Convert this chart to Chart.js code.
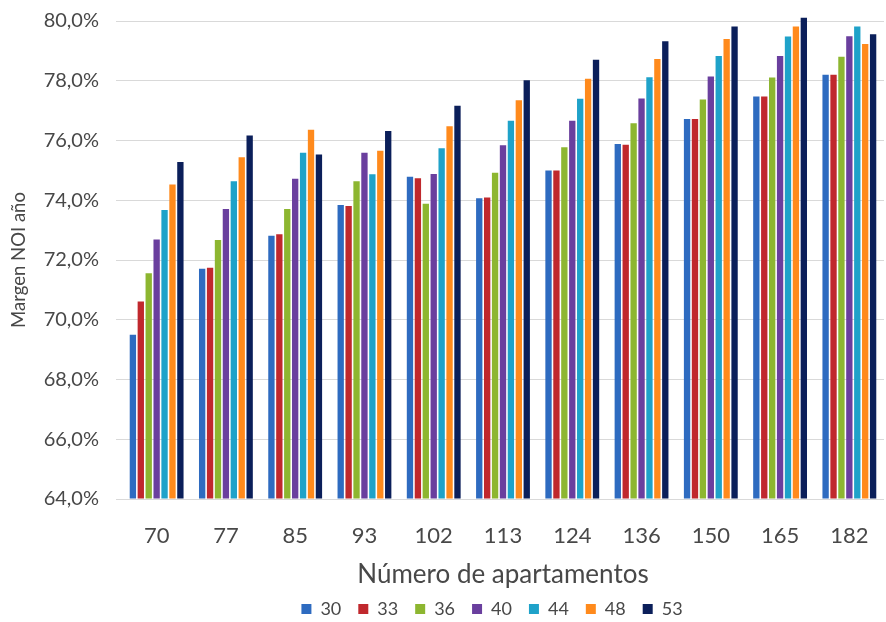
<!DOCTYPE html>
<html>
<head>
<meta charset="utf-8">
<script src="https://cdn.jsdelivr.net/npm/chart.js@4.4.1/dist/chart.umd.min.js"></script>
<style>
  html, body { margin: 0; padding: 0; background: #ffffff; overflow: hidden; }
  #wrap { width: 892px; height: 636px; position: relative; margin-top: -8px; }
</style>
</head>
<body>
<div id="wrap"><canvas id="chart"></canvas></div>
<script>
// Number of apartments (x categories)
const categories = ['70', '77', '85', '93', '102', '113', '124', '136', '150', '165', '182'];

// Series names shown in the legend
const seriesNames = ['30', '33', '36', '40', '44', '48', '53'];

// Annual NOI margin (%) for each series
const s30 = [69.50, 71.71, 72.81, 73.84, 74.79, 74.07, 75.00, 75.88, 76.72, 77.47, 78.20];
const s33 = [70.61, 71.74, 72.86, 73.81, 74.74, 74.09, 75.00, 75.86, 76.72, 77.47, 78.20];
const s36 = [71.56, 72.67, 73.71, 74.64, 73.88, 74.92, 75.77, 76.58, 77.37, 78.11, 78.80];
const s40 = [72.69, 73.71, 74.72, 75.59, 74.88, 75.84, 76.66, 77.41, 78.14, 78.83, 79.49];
const s44 = [73.67, 74.64, 75.59, 74.87, 75.74, 76.66, 77.40, 78.12, 78.83, 79.48, 79.82];
const s48 = [74.53, 75.44, 76.36, 75.66, 76.48, 77.35, 78.07, 78.73, 79.40, 79.82, 79.23];
const s53 = [75.28, 76.17, 75.53, 76.32, 77.16, 78.02, 78.70, 79.32, 79.82, 80.11, 79.56];

// Y axis range and step
const yMin = 64;
const yMax = 80;
const yStep = 2;

const seriesValues = [s30, s33, s36, s40, s44, s48, s53];
const seriesColors = ['#2e6bc0', '#c0282d', '#8db630', '#6a3f9e', '#1fa2c9', '#ff8a1c', '#0b1f5a'];

const FONT = 'Lato, "Open Sans", sans-serif';
const TEXT = '#484848';
const GRID = '#d9d9d9';

const datasets = seriesNames.map((name, i) => ({
  label: name,
  data: seriesValues[i],
  backgroundColor: seriesColors[i],
  borderWidth: 0,
  base: yMin,
  categoryPercentage: 0.8,
  barPercentage: 0.8,
  // let the tallest bars rise slightly above the top gridline
  clip: { left: 0, top: 12, right: 12, bottom: 0 }
}));

// Nudge the legend so that it sits under the middle of the plot
const legendShift = {
  id: 'legendShift',
  afterLayout(chart) {
    const lg = chart.legend;
    if (lg) { lg.left += 46; lg.right += 46; }
  }
};

new Chart(document.getElementById('chart'), {
  type: 'bar',
  data: { labels: categories, datasets },
  plugins: [legendShift],
  options: {
    responsive: true,
    maintainAspectRatio: false,
    animation: false,
    layout: { padding: { top: 0, right: 0, bottom: 0, left: 0 } },
    plugins: {
      tooltip: { enabled: false },
      legend: {
        position: 'bottom',
        labels: {
          boxWidth: 10,
          boxHeight: 10,
          padding: 17,
          color: TEXT,
          font: { family: FONT, size: 18 }
        }
      }
    },
    scales: {
      x: {
        afterFit(scale) { scale.height = 84; },
        grid: { display: false, drawTicks: false },
        border: { display: false },
        ticks: {
          color: TEXT,
          font: { family: FONT, size: 22 },
          padding: 23.5
        },
        title: {
          display: true,
          text: 'Número de apartamentos',
          color: TEXT,
          font: { family: FONT, size: 26 },
          padding: { top: 0, bottom: -7.6 }
        }
      },
      y: {
        min: yMin,
        max: yMax,
        afterFit(scale) { scale.width = 122; },
        grid: { color: GRID, drawTicks: true, tickLength: 6, tickColor: GRID, lineWidth: 1 },
        border: { display: false },
        ticks: {
          stepSize: yStep,
          color: TEXT,
          font: { family: FONT, size: 20 },
          padding: 17,
          callback: (v) => v.toFixed(1).replace('.', ',') + '%'
        },
        title: {
          display: true,
          text: 'Margen NOI año',
          color: TEXT,
          font: { family: FONT, size: 18.5 },
          padding: { top: 8, bottom: 0 }
        }
      }
    }
  }
});
</script>
</body>
</html>
